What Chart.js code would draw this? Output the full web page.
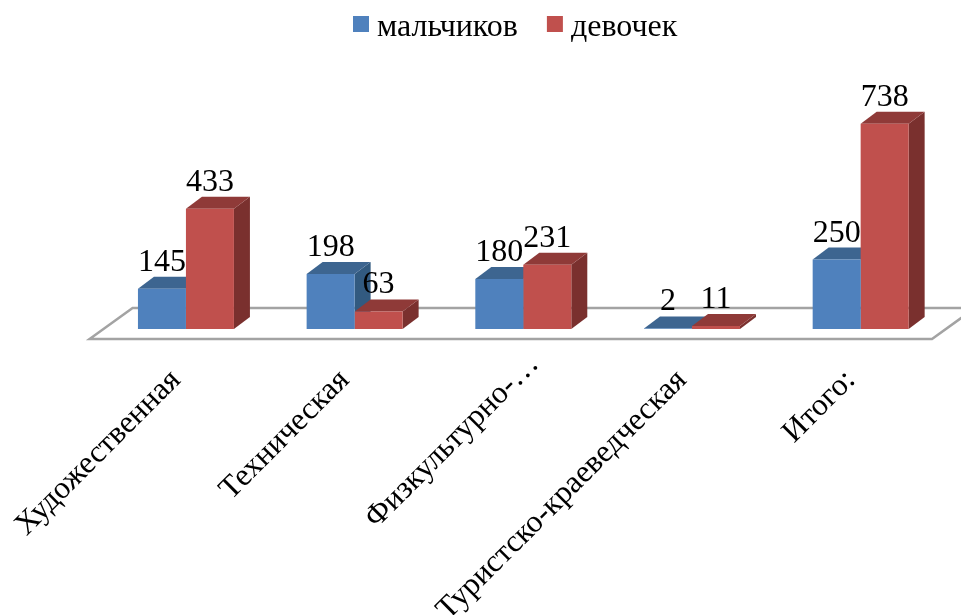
<!DOCTYPE html>
<html>
<head>
<meta charset="utf-8">
<script src="https://cdn.jsdelivr.net/npm/chart.js@4"></script>
<style>
  html, body { margin: 0; padding: 0; background: #fff; overflow: hidden; }
  #box { width: 961px; height: 615px; position: relative; }
</style>
</head>
<body>
<div id="box"><canvas id="chart"></canvas></div>
<script>
const categories = ['Художественная', 'Техническая', 'Физкультурно-…', 'Туристско-краеведческая', 'Итого:'];
const boys = [145, 198, 180, 2, 250];
const girls = [433, 63, 231, 11, 738];

const FONT = '"Liberation Serif", "Times New Roman", serif';

/* faces sombres des barres : [dessus, côté] */
const shades = [
    { top: '#3d6590', side: '#325a80' },
    { top: '#8f3a38', side: '#7a302e' }
];
const DEPTH_X = 16, DEPTH_Y = 12;

function poly(ctx, pts, fill) {
    ctx.beginPath();
    pts.forEach((p, i) => i ? ctx.lineTo(p[0], p[1]) : ctx.moveTo(p[0], p[1]));
    ctx.closePath();
    ctx.fillStyle = fill;
    ctx.fill();
}

const bars3d = {
    id: 'bars3d',
    afterUpdate(chart) {
        // le libellé tronqué dépasse des autres le long de la diagonale
        const item = chart.scales.x.getLabelItems()[2];
        item.options.translation[0] += 21;
        item.options.translation[1] -= 16;
    },
    beforeDatasetsDraw(chart) {
        const ctx = chart.ctx, area = chart.chartArea;
        // plancher
        ctx.save();
        ctx.strokeStyle = '#a3a3a3';
        ctx.lineWidth = 2.5;
        ctx.beginPath();
        ctx.moveTo(area.left - 12, area.bottom + 10);
        ctx.lineTo(area.left + 31, area.bottom - 21);
        ctx.lineTo(area.right + 30, area.bottom - 21);
        ctx.lineTo(area.right - 13, area.bottom + 10);
        ctx.closePath();
        ctx.stroke();

        chart.data.datasets.forEach((ds, i) => {
            chart.getDatasetMeta(i).data.forEach(b => {
                const l = b.x - b.width / 2, r = b.x + b.width / 2;
                poly(ctx, [[r, b.y], [r + DEPTH_X, b.y - DEPTH_Y], [r + DEPTH_X, b.base - DEPTH_Y], [r, b.base]], shades[i].side);
                poly(ctx, [[l, b.y], [l + DEPTH_X, b.y - DEPTH_Y], [r + DEPTH_X, b.y - DEPTH_Y], [r, b.y]], shades[i].top);
            });
        });
        ctx.restore();
    },
    afterDatasetsDraw(chart) {
        const ctx = chart.ctx;
        ctx.save();
        ctx.font = '32px ' + FONT;
        ctx.fillStyle = '#000';
        ctx.textAlign = 'center';
        ctx.textBaseline = 'alphabetic';
        chart.data.datasets.forEach((ds, i) => {
            chart.getDatasetMeta(i).data.forEach((b, j) => {
                ctx.fillText(ds.data[j], b.x, b.y - 18);
            });
        });

        // légende : carré collé au texte, ce que la légende native ne permet pas
        ctx.textAlign = 'left';
        let x = 353;
        chart.data.datasets.forEach(ds => {
            ctx.fillStyle = ds.backgroundColor;
            ctx.fillRect(x, 16, 16, 16);
            ctx.fillStyle = '#000';
            ctx.fillText(ds.label, x + 24, 36);
            x += 24 + ctx.measureText(ds.label).width + 29;
        });
        ctx.restore();
    }
};

new Chart(document.getElementById('chart'), {
    type: 'bar',
    data: {
        labels: categories,
        datasets: [
            { label: 'мальчиков', data: boys, backgroundColor: '#4f81bd' },
            { label: 'девочек', data: girls, backgroundColor: '#c0504d' }
        ]
    },
    options: {
        responsive: true,
        maintainAspectRatio: false,
        animation: false,
        layout: { padding: { left: 101.6, right: 16, top: 51, bottom: 0 } },
        categoryPercentage: 0.569,
        barPercentage: 1,
        plugins: {
            tooltip: { enabled: false },
            legend: { display: false }
        },
        scales: {
            x: {
                grid: { display: false },
                border: { display: false },
                afterFit: s => { s.height = 286; s.paddingLeft = 0; s.paddingRight = 0; },
                ticks: {
                    minRotation: 45, maxRotation: 45,
                    autoSkip: false,
                    padding: 25,
                    labelOffset: -10,
                    color: '#000',
                    font: { family: FONT, size: 31.5 }
                }
            },
            y: { display: false, min: 0, max: 1000 }
        }
    },
    plugins: [bars3d]
});
</script>
</body>
</html>
